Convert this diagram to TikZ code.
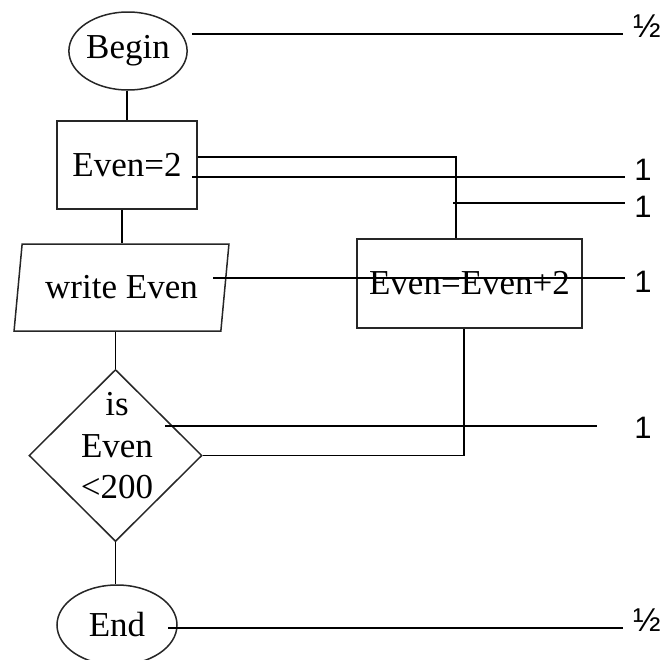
\documentclass[tikz,border=0pt]{standalone}
\usepackage{fontspec}
\setmainfont{Liberation Serif}
\newfontfamily\labfont{Liberation Sans}
\usetikzlibrary{shapes.geometric}
\begin{document}
\begin{tikzpicture}[x=1pt,y=-1pt,
  lw/.style={line width=1.8pt, draw=black},
  shp/.style={draw=black!85, line width=1.5pt, inner sep=0pt, font=\fontsize{35}{41.5}\selectfont},
  term/.style={shp, ellipse, minimum width=118pt, minimum height=78pt},
  proc/.style={shp, rectangle},
  iobox/.style={shp, trapezium, trapezium left angle=75.2, trapezium right angle=104.8, trapezium stretches=true},
  decbox/.style={shp, diamond},
  txt/.style={inner sep=0pt, font=\fontsize{35}{41.5}\selectfont, align=center},
  scorelab/.style={inner sep=0pt, font=\labfont\fontsize{31}{36}\selectfont},
  halflab/.style={inner sep=0pt, font=\labfont\fontsize{33}{38}\selectfont}
]
\useasboundingbox (0,0) rectangle (669,659);

% flowchart nodes
\node[term] (begin) at (128,51) {Begin};
\node[proc, minimum width=140pt, minimum height=88pt] (even2) at (127,165) {Even=2};
\node[iobox, minimum width=215pt, minimum height=87pt] (write) at (121.5,287.5) {write Even};
\node[decbox, minimum width=173pt, minimum height=172pt] (dec) at (115.5,455.5) {};
\node[txt] (dectext) at (117,446) {is\\Even\\<200};
\node[proc, minimum width=225pt, minimum height=89pt] (inc) at (469.5,283.5) {Even=Even+2};
\node[term, minimum width=120pt, minimum height=80pt] (end) at (117,625) {End};

% flow connectors
\draw[lw] (even2.north |- begin.south) -- (even2.north);
\draw[lw] ([xshift=-5pt]even2.south) -- ([xshift=-5pt]even2.south |- write.north);
\draw[lw] (dec.north |- write.south) -- (dec.north);
\draw[lw] (dec.south) -- (dec.south |- end.north);
\coordinate (incin) at (456,0);
\draw[lw] ([yshift=8pt]even2.east) -| (incin |- inc.north);
\draw[lw] ([xshift=-5.5pt]inc.south) |- (dec.east);

% score marks
\node[halflab] (l1) at (647,26) {½};
\node[scorelab] (l2) at (643,170) {1};
\node[scorelab] (l3) at (643,207) {1};
\node[scorelab] (l4) at (643,282) {1};
\node[scorelab] (l5) at (643,428) {1};
\node[halflab] (l6) at (647,620) {½};

\coordinate (s1a) at (192,34);  \coordinate (s1b) at (623,34);
\coordinate (s2a) at (192,177); \coordinate (s2b) at (625,177);
\coordinate (s3a) at (453,203); \coordinate (s3b) at (625,203);
\coordinate (s4a) at (213,278); \coordinate (s4b) at (625,278);
\coordinate (s5a) at (165,426); \coordinate (s5b) at (597,426);
\coordinate (s6a) at (168,628); \coordinate (s6b) at (623,628);
\draw[lw] (s1a) -- (s1b);
\draw[lw] (s2a) -- (s2b);
\draw[lw] (s3a) -- (s3b);
\draw[lw] (s4a) -- (s4b);
\draw[lw] (s5a) -- (s5b);
\draw[lw] (s6a) -- (s6b);
\end{tikzpicture}
\end{document}
